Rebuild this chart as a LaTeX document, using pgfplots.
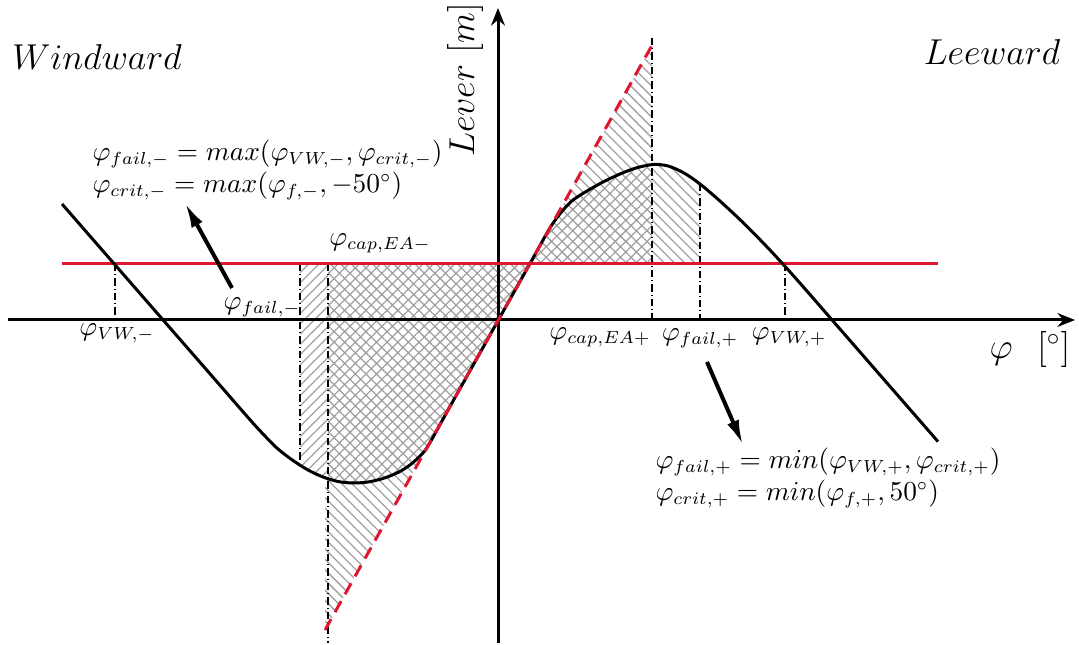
\documentclass[border=0pt]{standalone}
\usepackage{pgfplots}
\usepackage{pgfplotstable}
\pgfplotsset{compat=1.18}
\usepgfplotslibrary{fillbetween}
\usetikzlibrary{patterns.meta,arrows.meta}

\definecolor{heel}{RGB}{222,22,48}
\definecolor{hatch}{RGB}{160,160,160}

% righting lever curve (GZ)
\pgfplotstableread{
x y
-436 116
-400 74.7
-360 28.8
-320 -17.1
-280 -63
-250 -97.5
-235 -114
-220 -129
-205 -140.5
-190 -150
-175 -157
-160 -161.5
-145 -163
-130 -162
-115 -158.5
-100 -152.5
-88 -145
-78 -136
-70 -126
-50 -90.1
-30 -54.3
-10 -18.6
10 17.2
30 52.9
50 88.7
58 101
66 111
75 120
89 129
105 138
122 146
138 152
155 155.5
170 154
186 147
202 136
220 120.7
239 103.2
256 86.5
272 69.9
290 50.3
310 27.7
332 2.4
386 -59.6
440 -121.6
}\gz

% heeling lever
\pgfplotstableread{
x y
-436 56
440 56
}\heellever

% initial slope
\pgfplotstableread{
x y
-173 -310
157 280
}\slope

\tikzset{
  dd/.style={black, line width=0.45pt, dash pattern=on 3pt off 1.2pt on 0.4pt off 1.2pt},
  lab/.style={font=\fontsize{10.5}{12}\selectfont, inner sep=1pt},
}

\begin{document}
\begin{tikzpicture}
\begin{axis}[
  x=0.4pt, y=0.4pt,
  xmin=-490, xmax=577, ymin=-323, ymax=312,
  axis lines=none, ticks=none, clip=false,
]
\path (axis cs:-498,-323) rectangle (axis cs:581,320);

% axes
\draw[line width=1.2pt, -{Stealth[length=7pt,width=5.5pt]}] (axis cs:-490,0) -- (axis cs:577,0);
\draw[line width=1.2pt, -{Stealth[length=7pt,width=5.5pt]}] (axis cs:0,-323) -- (axis cs:0,312);

% named paths
\addplot[draw=none, name path=gz, smooth] table {\gz};
\addplot[draw=none, name path=hl] table {\heellever};
\addplot[draw=none, name path=sl] table {\slope};

% hatched areas
\addplot[pattern={Lines[angle=45,distance=2.9pt,line width=0.5pt]}, pattern color=hatch]
  fill between[of=gz and hl, soft clip={domain=-198:-170}];
\addplot[pattern={Hatch[angle=45,distance=3pt,line width=0.5pt]}, pattern color=hatch]
  fill between[of=gz and hl, soft clip={domain=-170:154}];
\addplot[pattern={Lines[angle=-45,distance=2.9pt,line width=0.5pt]}, pattern color=hatch]
  fill between[of=gz and hl, soft clip={domain=154:202}];
\addplot[pattern={Lines[angle=-45,distance=2.9pt,line width=0.5pt]}, pattern color=hatch]
  fill between[of=sl and gz, soft clip={domain=-173:-70}];
\addplot[pattern={Lines[angle=-45,distance=2.9pt,line width=0.5pt]}, pattern color=hatch]
  fill between[of=sl and gz, soft clip={domain=50:154}];

% reference angles
\addplot[dd] coordinates {(-383,56) (-383,0)};
\addplot[dd] coordinates {(-198,56) (-198,-142)};
\addplot[dd] coordinates {(-170,56) (-170,-323)};
\addplot[dd] coordinates {(154,282) (154,0)};
\addplot[dd] coordinates {(202,136) (202,0)};
\addplot[dd] coordinates {(287,56) (287,0)};

% heeling lever, righting lever, slope
\addplot[heel, line width=1.2pt] table {\heellever};
\addplot[black, line width=1.2pt, smooth] table {\gz};
\addplot[heel, line width=1.2pt, dash pattern=on 5pt off 3.2pt] table {\slope};

% labels
\node[font=\fontsize{15}{18}\selectfont, inner sep=1pt] at (axis cs:-401,263) {$Windward$};
\node[font=\fontsize{15}{18}\selectfont, inner sep=1pt] at (axis cs:494,268) {$Leeward$};
\node[rotate=90, font=\fontsize{14}{17}\selectfont, inner sep=1pt] at (axis cs:-33,240) {$Lever\ [m]$};
\node[font=\fontsize{14}{17}\selectfont, inner sep=1pt] at (axis cs:532,-30) {$\varphi\hspace{0.7em}[^\circ]$};

\node[lab] at (axis cs:-381,-13) {$\varphi_{VW,-}$};
\node[lab] at (axis cs:-236,13) {$\varphi_{fail,-}$};
\node[lab] at (axis cs:-118,77) {$\varphi_{cap,EA-}$};
\node[lab] at (axis cs:102,-17) {$\varphi_{cap,EA+}$};
\node[lab] at (axis cs:202,-18) {$\varphi_{fail,+}$};
\node[lab] at (axis cs:291,-17) {$\varphi_{VW,+}$};

\node[anchor=west, align=left, font=\fontsize{10.5}{13}\selectfont, inner sep=0pt] at (axis cs:-406,150)
  {$\varphi_{fail,-}=max(\varphi_{VW,-},\varphi_{crit,-})$\\$\varphi_{crit,-}=max(\varphi_{f,-},-50^\circ)$};
\node[anchor=west, align=left, font=\fontsize{10.5}{12.6}\selectfont, inner sep=0pt] at (axis cs:157,-158)
  {$\varphi_{fail,+}=min(\varphi_{VW,+},\varphi_{crit,+})$\\$\varphi_{crit,+}=min(\varphi_{f,+},50^\circ)$};

% pointers to the definitions
\draw[line width=1.6pt, -{Latex[length=10pt,width=5pt]}] (axis cs:-266,32) -- (axis cs:-313,117);
\draw[line width=1.6pt, -{Latex[length=10pt,width=5pt]}] (axis cs:209,-42) -- (axis cs:245,-125);
\end{axis}
\end{tikzpicture}
\end{document}
